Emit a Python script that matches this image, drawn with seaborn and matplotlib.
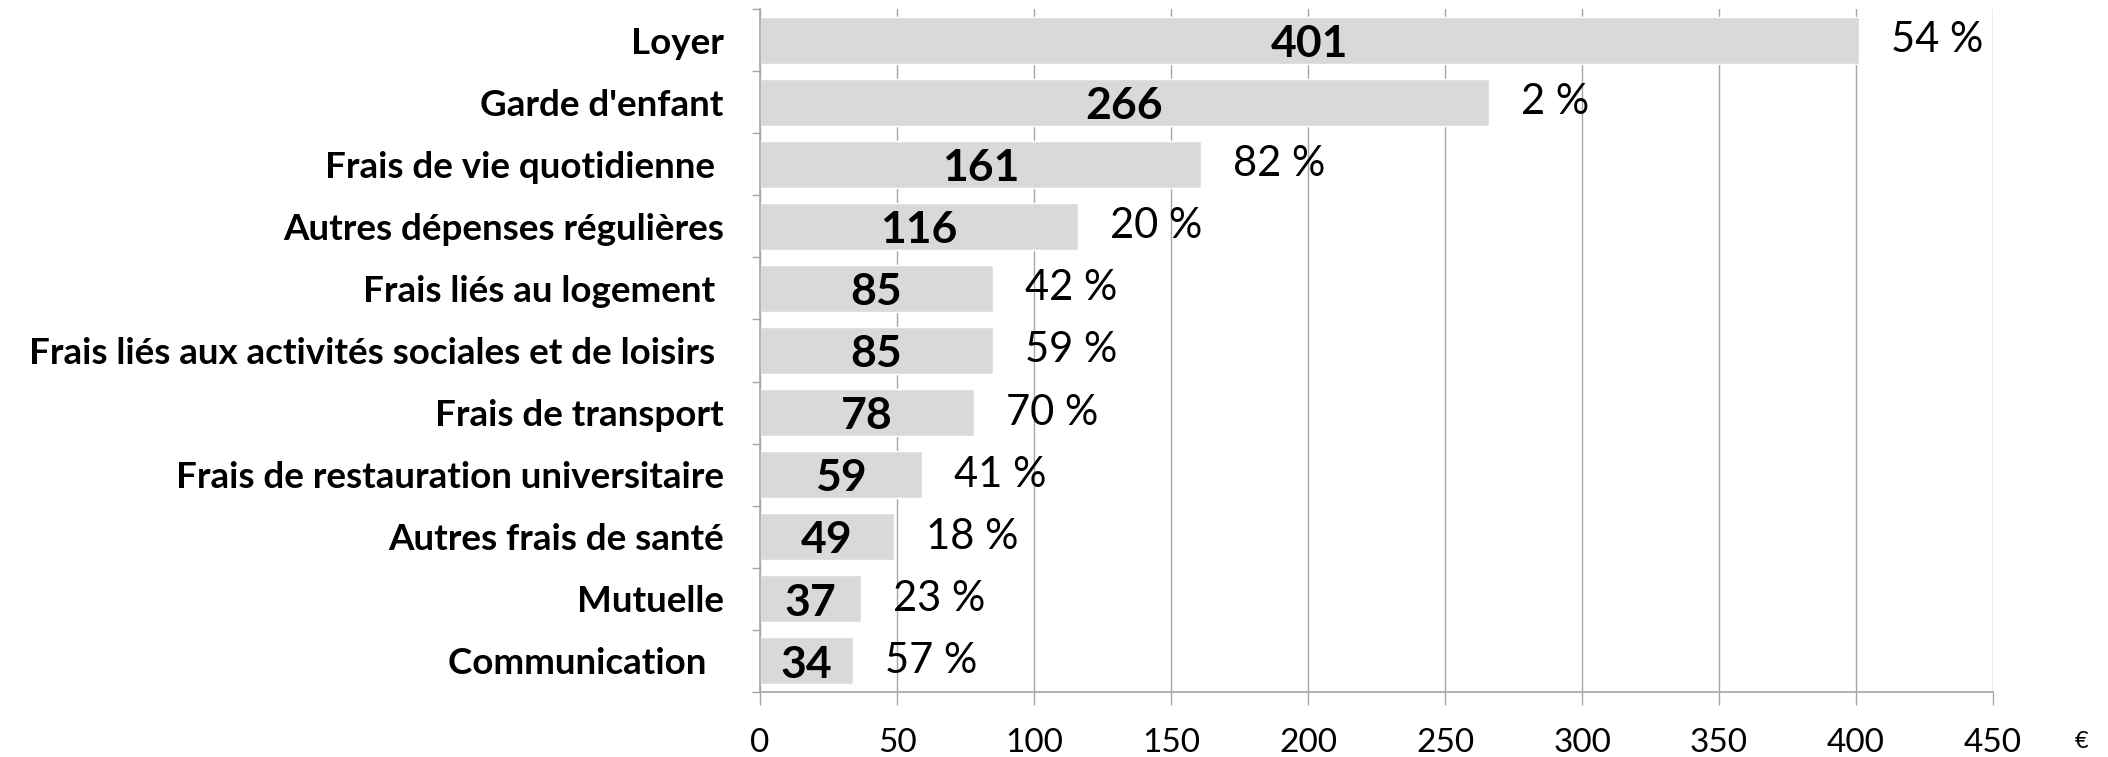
import numpy as np
import pandas as pd
import seaborn as sns
import matplotlib.pyplot as plt
from matplotlib.ticker import MultipleLocator, FixedLocator

# données
categories = ["Loyer", "Garde d'enfant", "Frais de vie quotidienne ", "Autres dépenses régulières",
              "Frais liés au logement ", "Frais liés aux activités sociales et de loisirs ",
              "Frais de transport", "Frais de restauration universitaire", "Autres frais de santé",
              "Mutuelle", "Communication  "]
montants = [401, 266, 161, 116, 85, 85, 78, 59, 49, 37, 34]
parts = [54, 2, 82, 20, 42, 59, 70, 41, 18, 23, 57]

sns.set_style("white")
plt.rcParams['font.family'] = ['Lato', 'DejaVu Sans']
plt.rcParams['text.color'] = 'black'
plt.rcParams['xtick.labelcolor'] = 'black'
plt.rcParams['ytick.labelcolor'] = 'black'

df = pd.DataFrame({'categorie': categories, 'montant': montants, 'part': parts})

fig = plt.figure(figsize=(21.08, 7.57), dpi=100)
ax = fig.add_axes([0.3605, 0.086, 0.585, 0.902])

sns.barplot(data=df, x='montant', y='categorie', orient='h', color='#D9D9D9',
            saturation=1, width=0.76, ax=ax, zorder=2)

ax.set_xlim(0, 450)
ax.set_ylim(len(categories) - 0.5, -0.5)
ax.xaxis.set_major_locator(MultipleLocator(50))
ax.grid(axis='x', color='#A6A6A6', linewidth=1.0, zorder=0)
ax.grid(axis='y', visible=False)
ax.set_axisbelow(True)

for s in ['top', 'right']:
    ax.spines[s].set_visible(False)
for s in ['left', 'bottom']:
    ax.spines[s].set_color('#A6A6A6')
    ax.spines[s].set_linewidth(1.2)

ax.set_xlabel('')
ax.set_ylabel('')
ax.tick_params(axis='x', direction='out', length=9, width=1, color='#A6A6A6',
               pad=17, labelsize=24, labelcolor='black', bottom=True)
# tirets entre les catégories (style tableur)
ax.tick_params(axis='y', which='major', length=0, pad=26, labelsize=26.5, labelcolor='black')
ax.yaxis.set_minor_locator(FixedLocator(np.arange(-0.5, len(categories), 1)))
ax.tick_params(axis='y', which='minor', direction='out', length=6, width=1,
               color='#A6A6A6', left=True)
for lab in ax.get_yticklabels():
    lab.set_fontweight('bold')

for i, (v, p) in enumerate(zip(montants, parts)):
    ax.text(v / 2, i + 0.06, str(v), ha='center', va='center',
            fontsize=32, fontweight='bold', color='black', zorder=3)
    ax.annotate(f"{p} %", xy=(v, i), xytext=(23, 0), textcoords='offset points',
                ha='left', va='center', fontsize=30, color='black')

ax.annotate('€', xy=(1, 0), xycoords='axes fraction', xytext=(64, -36),
            textcoords='offset points', ha='center', va='center', fontsize=17,
            color='black')

fig.savefig('out.png', dpi=100)
plt.close(fig)
